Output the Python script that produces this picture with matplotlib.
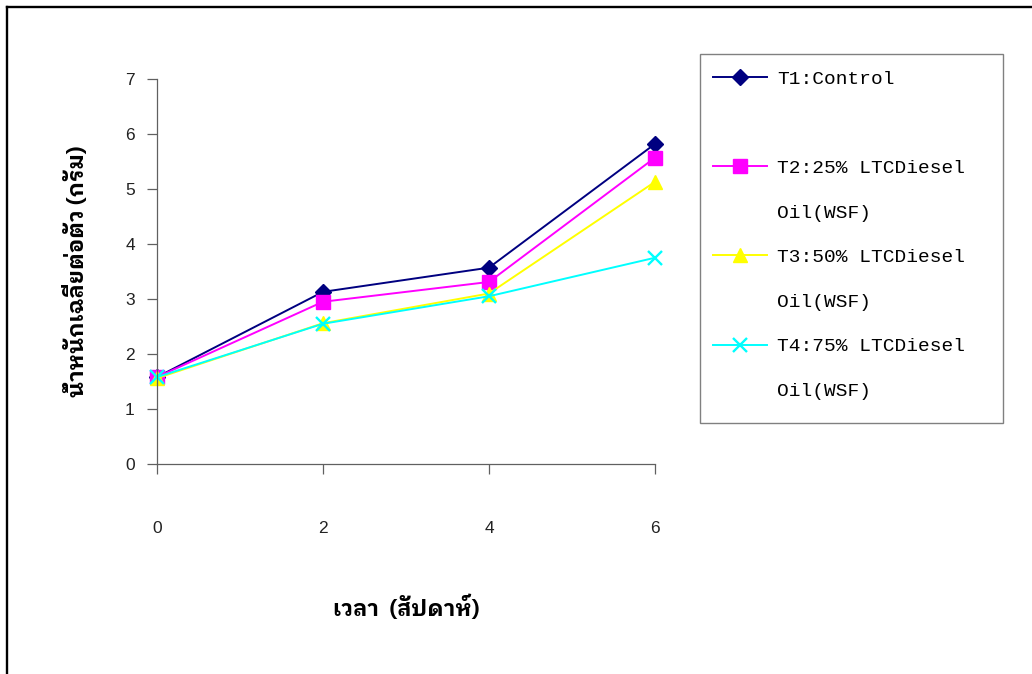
import matplotlib
matplotlib.use("Agg")
import matplotlib.pyplot as plt
from matplotlib.lines import Line2D
from matplotlib.patches import Rectangle

# น้ำหนักเฉลี่ยต่อตัว (กรัม) ในแต่ละสัปดาห์
weeks = [0, 2, 4, 6]
t1_control = [1.58, 3.13, 3.57, 5.82]
t2_25 = [1.58, 2.95, 3.31, 5.57]
t3_50 = [1.56, 2.56, 3.10, 5.13]
t4_75 = [1.58, 2.55, 3.05, 3.75]

series_labels = ["T1:Control", "T2:25% LTCDiesel", "T3:50% LTCDiesel", "T4:75% LTCDiesel"]
label_tail = ["", "Oil(WSF)", "Oil(WSF)", "Oil(WSF)"]
y_ticks = [0, 1, 2, 3, 4, 5, 6, 7]

thai_font = ["IBM Plex Sans Thai Looped", "DejaVu Sans"]
tick_font = "Liberation Sans"
legend_font = "Liberation Mono"

W, H = 1032, 674
fig = plt.figure(figsize=(W / 100, H / 100), dpi=100)
ax = fig.add_axes([157 / W, 1 - 464 / H, (655 - 157) / W, (464 - 79) / H])

styles = [
    dict(color="#000080", marker="D", markersize=8),
    dict(color="#FF00FF", marker="s", markersize=9.5),
    dict(color="#FFFF00", marker="^", markersize=10),
    dict(color="#00FFFF", marker="x", markersize=9.5, markeredgewidth=1.7),
]
handles = []
for vals, st in zip([t1_control, t2_25, t3_50, t4_75], styles):
    h, = ax.plot(weeks, vals, linewidth=1.4, clip_on=False, **st)
    handles.append(h)

ax.set_xlim(0, 6)
ax.set_ylim(0, 7)
ax.set_xticks(weeks)
ax.set_yticks(y_ticks)
for s in ["top", "right"]:
    ax.spines[s].set_visible(False)
for s in ["left", "bottom"]:
    ax.spines[s].set_color("#606060")
    ax.spines[s].set_linewidth(0.9)
ax.tick_params(axis="both", direction="out", length=7, width=0.9, color="#606060",
               labelsize=12.5, labelcolor="#222222")
ax.tick_params(axis="x", pad=34)
ax.tick_params(axis="y", pad=9)
for lbl in ax.get_xticklabels() + ax.get_yticklabels():
    lbl.set_family(tick_font)

ax.set_xlabel("เวลา  (สัปดาห์)", family=thai_font, fontsize=16, fontweight="bold", labelpad=42)
ax.set_ylabel("น้ำหนักเฉลี่ยต่อตัว (กรัม)", family=thai_font, fontsize=16, fontweight="bold", labelpad=27)

# legend: a second, handle-less row carries the wrapped part of each label
blank = Line2D([], [], linestyle="none", marker="none")
leg_handles, leg_labels = [], []
for h, lab, tail in zip(handles, series_labels, label_tail):
    leg_handles += [h, blank]
    leg_labels += [lab, tail if tail else " "]
leg = fig.legend(leg_handles, leg_labels, loc="upper left",
                 bbox_to_anchor=(713 / W, 1 - 70 / H), frameon=False,
                 prop={"family": legend_font, "size": 14},
                 handlelength=2.8, handletextpad=0.5, labelspacing=1.39,
                 borderpad=0, borderaxespad=0)
fig.patches.append(Rectangle((700 / W, 1 - 423 / H), 303 / W, (423 - 54) / H,
                             transform=fig.transFigure, fill=False,
                             edgecolor="#808080", linewidth=1.0))

# outer frame (top and left edges)
fig.add_artist(Line2D([7 / W, 1], [1 - 7 / H, 1 - 7 / H], color="black", linewidth=1.7,
                      transform=fig.transFigure))
fig.add_artist(Line2D([7 / W, 7 / W], [0, 1 - 7 / H], color="black", linewidth=1.7,
                      transform=fig.transFigure))

fig.savefig("out.png", dpi=100)
